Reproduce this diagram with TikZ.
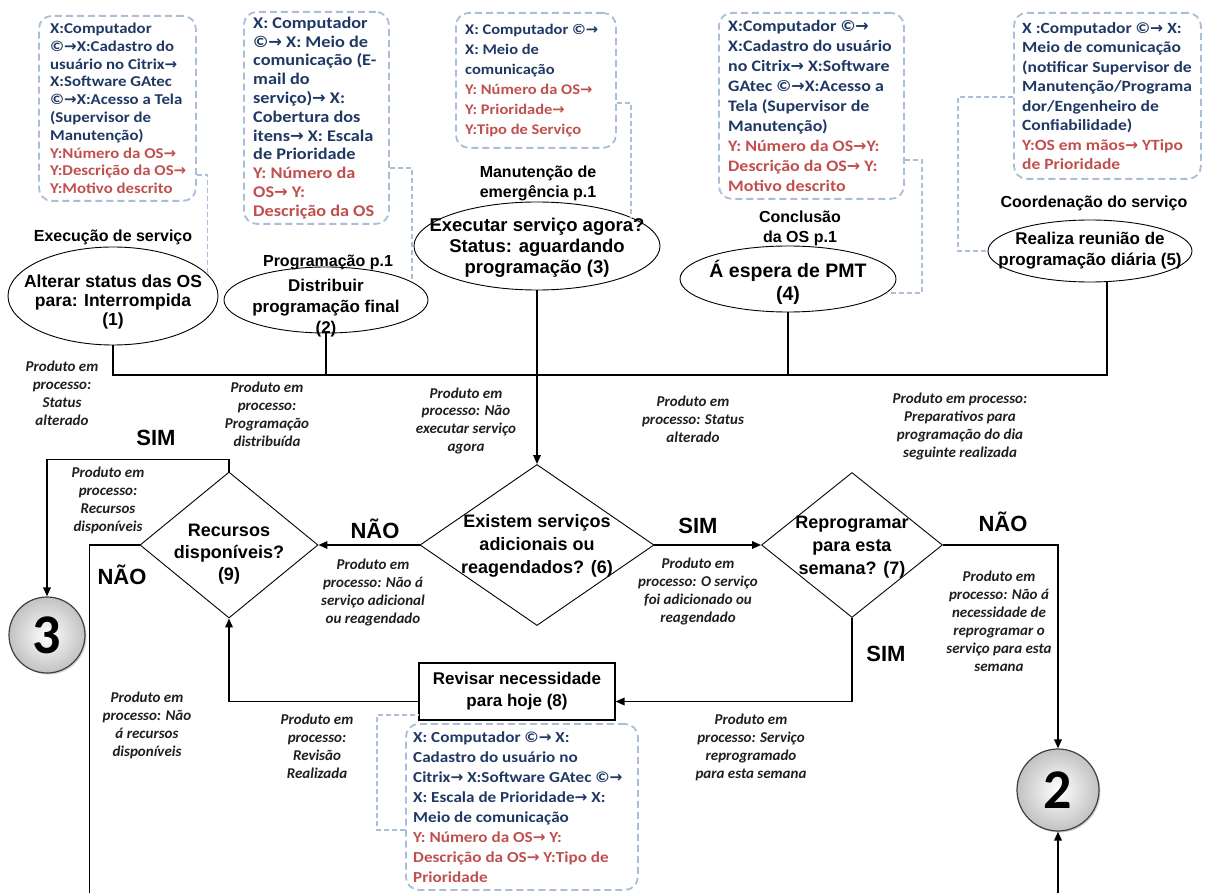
\documentclass[tikz,border=0pt]{standalone}
\usepackage{fontspec}
\setmainfont{Liberation Sans}
\newfontfamily\carl{Carlito}
\newfontfamily\carlx{Carlito}[FakeStretch=1.12]
\newfontfamily\arwfont{DejaVu Sans}
\usetikzlibrary{shapes.geometric,arrows.meta,shadows}

\definecolor{xblue}{RGB}{31,56,100}
\definecolor{yred}{RGB}{192,80,77}
\definecolor{dashblue}{RGB}{172,189,218}

% arrow glyph, copyright sign and red output lines of the resource lists
\newcommand{\ra}{{\arwfont\bfseries →}}
\newcommand{\cpy}{©}
\newcommand{\yr}{\color{yred}}

\tikzset{
  xybox/.style={draw=dashblue, line width=1.8pt, dash pattern=on 7pt off 4pt,
    rounded corners=13pt, anchor=north west, inner sep=0pt},
  btxt/.style={anchor=west, align=left, inner sep=0pt, text=xblue},
  bsz/.style n args={2}{font=\carlx\bfseries\fontsize{#1}{#2}\selectfont},
  dconn/.style={draw=dashblue, line width=1.4pt, dash pattern=on 5pt off 3pt},
  conn/.style={draw=black, line width=1.8pt},
  arr/.style={conn, -{Triangle[length=9pt,width=7.5pt]}},
  ell/.style={ellipse, draw=black, line width=0.9pt, inner sep=0pt},
  dia/.style={diamond, draw=black, line width=0.9pt, inner sep=0pt},
  shtxt/.style={align=center, inner sep=0pt},
  tsz/.style n args={2}{font=\bfseries\fontsize{#1}{#2}\selectfont},
  head/.style={align=center, inner sep=0pt, font=\bfseries\fontsize{16}{20}\selectfont},
  yesno/.style={inner sep=0pt, font=\bfseries\fontsize{22}{24}\selectfont},
  note/.style={align=center, inner sep=0pt, text=black!88,
    font=\carl\bfseries\itshape\fontsize{15}{18}\selectfont},
  conncirc/.style={circle, draw=black!75, line width=1.2pt, inner sep=0pt,
    shading=radial, inner color=white, outer color=black!24,
    drop shadow={shadow xshift=1.5pt, shadow yshift=-1.5pt, opacity=0.35},
    font=\carl\bfseries\fontsize{56}{56}\selectfont}
}

\begin{document}
\begin{tikzpicture}[x=1pt, y=-1pt]
\useasboundingbox (0,0) rectangle (1205,893);
\fill[white] (0,0) rectangle (1205,893);

% ---------- resource lists (dashed boxes) ----------
\node[xybox, minimum width=157pt, minimum height=185pt] (b1) at (38,15) {};
\node[btxt, bsz={15}{17.8}] (b1t) at ([xshift=12pt]b1.west)
 {X:Computador\\
  \cpy\ra X:Cadastro do\\
  usuário no Citrix\ra\\
  X:Software GAtec\\
  \cpy\ra X:Acesso a Tela\\
  (Supervisor de\\
  Manutenção)\\
  \yr Y:Número da OS\ra\\
  \yr Y:Descrição da OS\ra\\
  \yr Y:Motivo descrito};

\node[xybox, minimum width=145pt, minimum height=212pt] (b2) at (243,11) {};
\node[btxt, bsz={16.3}{18.8}] (b2t) at ([xshift=10pt]b2.west)
 {X: Computador\\
  \cpy\ra{} X: Meio de\\
  comunicação (E-\\
  mail do\\
  serviço)\ra{} X:\\
  Cobertura dos\\
  itens\ra{} X: Escala\\
  de Prioridade\\
  \yr Y: Número da\\
  \yr OS\ra{} Y:\\
  \yr Descrição da OS};

\node[xybox, minimum width=160pt, minimum height=135pt] (b3) at (455,12) {};
\node[btxt, bsz={14.7}{20}] (b3t) at ([xshift=10pt]b3.west)
 {X: Computador \cpy\ra\\
  X: Meio de\\
  comunicação\\
  \yr Y: Número da OS\ra\\
  \yr Y: Prioridade\ra\\
  \yr Y:Tipo de Serviço};

\node[xybox, minimum width=185pt, minimum height=186pt] (b4) at (718,12) {};
\node[btxt, bsz={16}{20}] (b4t) at ([xshift=10pt]b4.west)
 {X:Computador \cpy\ra\\
  X:Cadastro do usuário\\
  no Citrix\ra{} X:Software\\
  GAtec \cpy\ra X:Acesso a\\
  Tela (Supervisor de\\
  Manutenção)\\
  \yr Y: Número da OS\ra Y:\\
  \yr Descrição da OS\ra{} Y:\\
  \yr Motivo descrito};

\node[xybox, minimum width=187pt, minimum height=166pt] (b5) at (1013,12) {};
\node[btxt, bsz={15.6}{19.5}] (b5t) at ([xshift=9pt]b5.west)
 {X :Computador \cpy\ra{} X:\\
  Meio de comunicação\\
  (notificar Supervisor de\\
  Manutenção/Programa\\
  dor/Engenheiro de\\
  Confiabilidade)\\
  \yr Y:OS em mãos\ra{} YTipo\\
  \yr de Prioridade};

\node[xybox, minimum width=232pt, minimum height=166pt] (b8) at (405,723) {};
\node[btxt, bsz={15.3}{20}] (b8t) at ([xshift=8pt]b8.west)
 {X: Computador \cpy\ra{} X:\\
  Cadastro do usuário no\\
  Citrix\ra{} X:Software GAtec \cpy\ra\\
  X: Escala de Prioridade\ra{} X:\\
  Meio de comunicação\\
  \yr Y: Número da OS\ra{} Y:\\
  \yr Descrição da OS\ra{} Y:Tipo de\\
  \yr Prioridade};

% ---------- activity headings ----------
\node[head] (h1) at (113,237) {Execução de serviço};
\node[head] (h2) at (328,262) {Programação p.1};
\node[head] (h3) at (538,183) {Manutenção de\\emergência p.1};
\node[head] (h4) at (800,228) {Conclusão\\da OS p.1};
\node[head] (h5) at (1094,203) {Coordenação do serviço};

% ---------- activities (ellipses) ----------
\node[ell, minimum width=210pt, minimum height=98pt] (e1) at (113,296) {};
\node[shtxt, tsz={17.5}{19}] (e1t) at ([yshift=-6pt]e1.center)
  {Alterar status das OS\\para: Interrompida\\(1)};

\node[ell, minimum width=204pt, minimum height=66pt] (e2) at (326,300) {};
\node[shtxt, tsz={17}{21}] (e2t) at ([yshift=-8pt]e2.center)
  {Distribuir\\programação final\\(2)};

\node[ell, minimum width=246pt, minimum height=88pt] (e3) at (537,246) {};
\node[shtxt, tsz={18.5}{21}] (e3t) at ([yshift=-2pt]e3.center)
  {Executar serviço agora?\\Status: aguardando\\programação (3)};

\node[ell, minimum width=216pt, minimum height=66pt] (e4) at (788,279) {};
\node[shtxt, tsz={19.5}{23}] (e4t) at ([yshift=-3pt]e4.center)
  {Á espera de PMT\\(4)};

\node[ell, minimum width=204pt, minimum height=62pt] (e5) at (1090,251) {};
\node[shtxt, tsz={17}{21}] (e5t) at (e5.center)
  {Realiza reunião de\\programação diária (5)};

% ---------- decisions ----------
\node[dia, minimum width=234pt, minimum height=161pt] (d6) at (537,545) {};
\node[shtxt, tsz={18}{23}] (d6t) at ([yshift=-1pt]d6.center)
  {Existem serviços\\adicionais ou\\reagendados? (6)};

\node[dia, minimum width=181pt, minimum height=145pt] (d7) at (852,545) {};
\node[shtxt, tsz={18}{23}] (d7t) at ([yshift=-2pt]d7.center)
  {Reprogramar\\para esta\\semana? (7)};

\node[dia, minimum width=178pt, minimum height=146pt] (d9) at (229,545) {};
\node[shtxt, tsz={18}{22}] (d9t) at ([yshift=-9pt]d9.center)
  {Recursos\\disponíveis?\\(9)};

% ---------- review task ----------
\node[draw=black, line width=1.1pt, minimum width=196pt, minimum height=57pt,
      shtxt, tsz={17}{22}] (r8) at (517,691.5) {Revisar necessidade\\para hoje (8)};

% ---------- off-page connectors ----------
\node[conncirc, minimum size=76pt] (c3) at (47,635) {3};
\node[conncirc, minimum size=82pt] (c2) at (1058,790) {2};

% ---------- dashed links from resource lists ----------
\draw[dconn] (b1.east |- 0,175) -| (e1.13);
\draw[dconn] (b2.east |- 0,168) -| (e2.12.5);
\draw[dconn] (b3.east |- 0,103) -| (e3.17);
\draw[dconn] (b4.east |- 0,160) -- (922,160) |- (e4.-8);
\draw[dconn] (b5.west |- 0,97) -- (958,97) |- (e5.west);
\draw[dconn] (b8.west |- 0,830) -- (377,830) |- (r8.west |- 0,715);

% ---------- flow ----------
\draw[conn] (e1.south) -- (e1.south |- 0,375) -- (1107,375) -- (e5.south -| 1107,0);
\draw[conn] (e2.south) -- (e2.south |- 0,376);
\draw[conn] (e4.south) -- (e4.south |- 0,375);
\draw[arr] (e3.south) -- (d6.north);

\draw[arr] (d6.east) -- (d7.west);
\draw[arr] (d6.west) -- (d9.east);
\draw[arr] (d7.east) -| (c2.north);
\draw[arr] (d7.south) |- ([yshift=-10pt]r8.east);
\draw[arr] ([yshift=-10pt]r8.west) -| (d9.south);
\draw[arr] (d9.north) -- ++(0,-12) -| (c3.north);
\draw[arr] (d9.west) -- ++(-50,0) -- ++(0,352) -| (c2.south);

% ---------- branch labels ----------
\node[yesno] (s1) at (156,438) {SIM};
\node[yesno] (n1) at (122,575) {NÃO};
\node[yesno] (n2) at (375,529) {NÃO};
\node[yesno] (s2) at (698,526) {SIM};
\node[yesno] (n3) at (1003,522) {NÃO};
\node[yesno] (s3) at (886,654) {SIM};

% ---------- work-in-process notes ----------
\node[note] (p1) at (62,393) {Produto em\\processo:\\Status\\alterado};
\node[note] (p2) at (267,414) {Produto em\\processo:\\Programação\\distribuída};
\node[note] (p3) at (466,421) {Produto em\\processo: Não\\executar serviço\\agora};
\node[note] (p4) at (693,419) {Produto em\\processo: Status\\alterado};
\node[note] (p5) at (960,426) {Produto em processo:\\Preparativos para\\programação do dia\\seguinte realizada};
\node[note] (p6) at (108,500) {Produto em\\processo:\\Recursos\\disponíveis};
\node[note] (p7) at (373,592) {Produto em\\processo: Não á\\serviço adicional\\ou reagendado};
\node[note] (p8) at (698,591) {Produto em\\processo: O serviço\\foi adicionado ou\\reagendado};
\node[note] (p9) at (999,621) {Produto em\\processo: Não á\\necessidade de\\reprogramar o\\serviço para esta\\semana};
\node[note] (p10) at (147,725) {Produto em\\processo: Não\\á recursos\\disponíveis};
\node[note] (p11) at (317,746) {Produto em\\processo:\\Revisão\\Realizada};
\node[note] (p12) at (751,747) {Produto em\\processo: Serviço\\reprogramado\\para esta semana};
\end{tikzpicture}
\end{document}
